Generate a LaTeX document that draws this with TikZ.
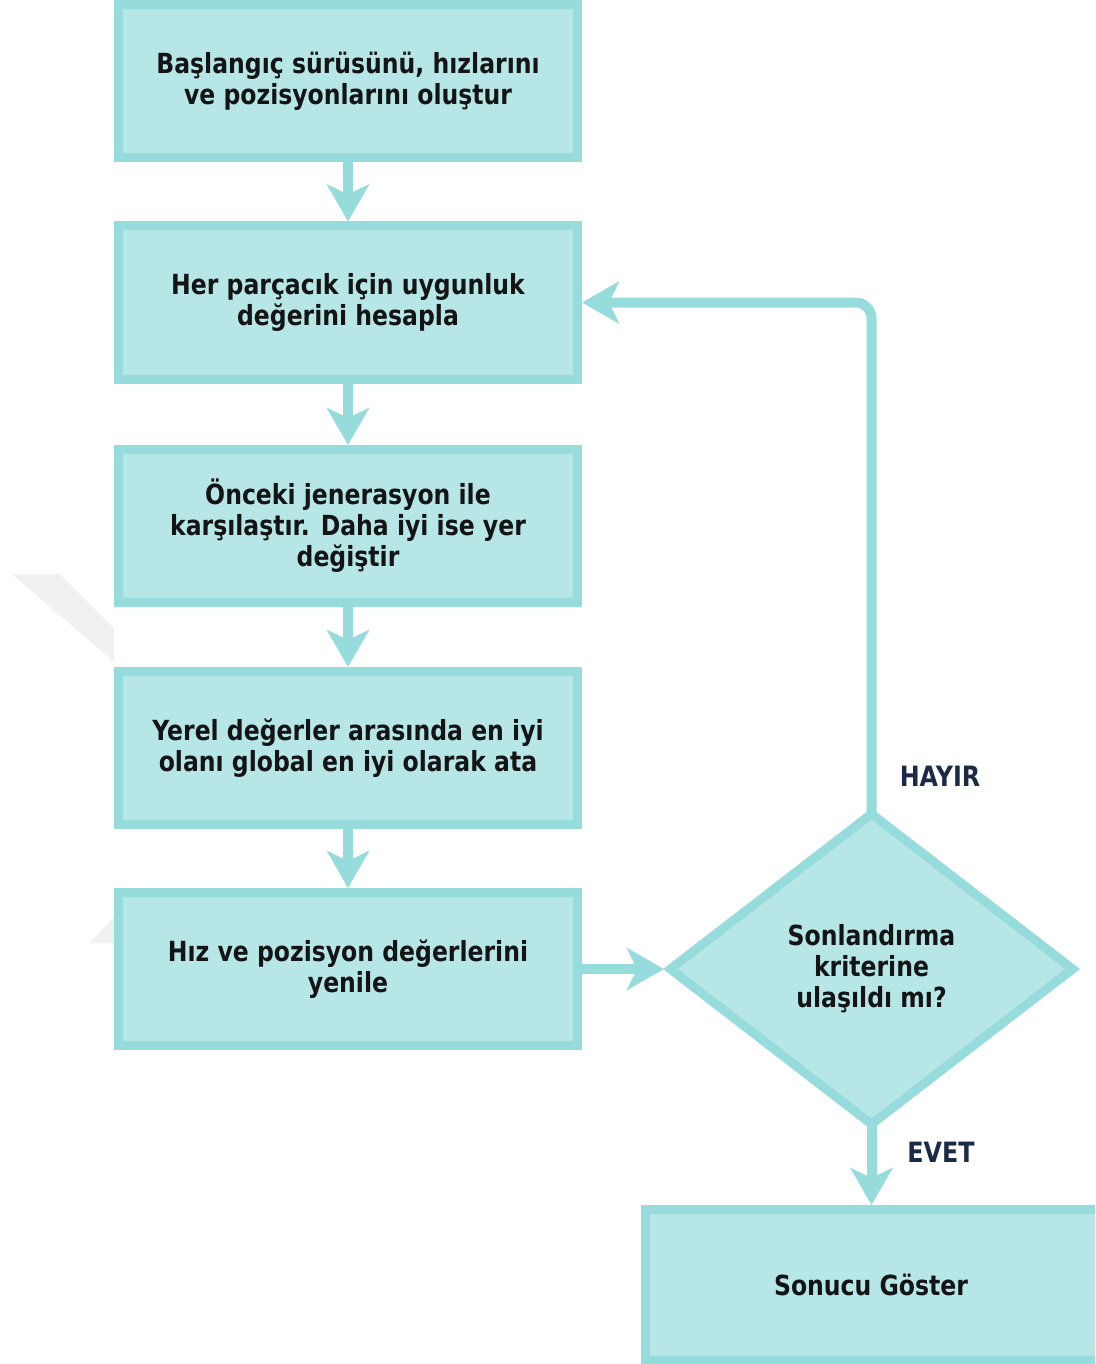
\documentclass[tikz,border=0pt]{standalone}
\usepackage{fontspec}
\setmainfont{DejaVu Sans}[FakeStretch=0.85]
\usetikzlibrary{arrows.meta,shapes.geometric}
\definecolor{boxfill}{HTML}{B6E6E6}
\definecolor{boxline}{HTML}{96DCDC}
\definecolor{txt}{HTML}{141414}
\definecolor{lbl}{HTML}{1C2B45}
\definecolor{wm}{HTML}{F1F1F1}
\tikzset{
  procbox/.style={draw=boxline, fill=boxfill, line width=9pt, minimum width=459pt,
    minimum height=153pt, inner sep=0pt, align=center,
    font=\fontsize{27.7}{31}\selectfont\bfseries, text=txt},
  decbox/.style={draw=boxline, fill=boxfill, line width=9pt, shape=diamond,
    minimum width=406pt, minimum height=314pt, inner sep=0pt, align=center,
    font=\fontsize{27.7}{31}\selectfont\bfseries, text=txt},
  flow/.style={draw=boxline, line width=10pt,
    -{Stealth[length=37pt,width=42pt,inset=10pt]}},
  edgelabel/.style={font=\fontsize{28}{31}\selectfont\bfseries, text=lbl, inner sep=0pt}
}
\begin{document}
\begin{tikzpicture}[x=1pt,y=-1pt]
\clip (0,0) rectangle (1095,1364);
% faint watermark
\fill[wm] (12,574) -- (60,574) -- (114,628) -- (114,662) -- cycle;
\fill[wm] (90,943) -- (114,917) -- (114,943) -- cycle;

\node[procbox] (b1) at (348,81) {Başlangıç sürüsünü, hızlarını\\ve pozisyonlarını oluştur};
\node[procbox] (b2) at (348,302.5) {Her parçacık için uygunluk\\değerini hesapla};
\node[procbox] (b3) at (348,526) {Önceki jenerasyon ile\\karşılaştır. Daha iyi ise yer\\değiştir};
\node[procbox] (b4) at (348,748) {Yerel değerler arasında en iyi\\olanı global en iyi olarak ata};
\node[procbox] (b5) at (348,969) {Hız ve pozisyon değerlerini\\yenile};
\node[decbox] (d) at (871.5,969) {Sonlandırma\\kriterine\\ulaşıldı mı?};
\node[procbox, minimum width=460pt, minimum height=151pt] (b6) at (875.5,1285) {\hspace*{-9pt}Sonucu Göster};

\draw[flow] (b1.south) -- (b2.north);
\draw[flow] (b2.south) -- (b3.north);
\draw[flow] (b3.south) -- (b4.north);
\draw[flow] (b4.south) -- (b5.north);
\draw[flow] (b5.east) -- (d.west);
\draw[flow, rounded corners=16pt] ([yshift=-4.5pt]d.north) |- (b2.east);
\draw[flow] ([yshift=4.5pt]d.south) -- (b6.north-|d.south);

\node[edgelabel] (hayir) at (940,776) {HAYIR};
\node[edgelabel] (evet) at (941,1152) {EVET};
\end{tikzpicture}
\end{document}
